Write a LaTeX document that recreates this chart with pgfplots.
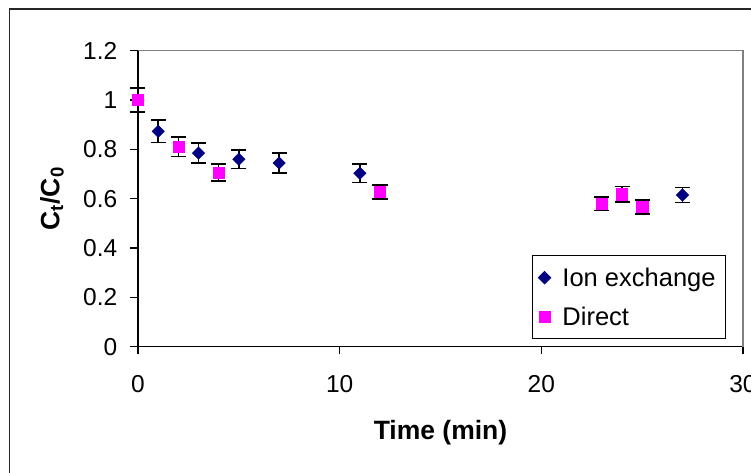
\documentclass[border=0pt]{standalone}
\usepackage{pgfplots}
\usepackage{pgfplotstable}
\pgfplotsset{compat=1.18}
\usepackage{fontspec}
\setmainfont{Liberation Sans}
\definecolor{navyc}{HTML}{000080}
\definecolor{magc}{HTML}{FF00FF}
\pgfplotstableread{
x y e
0 1.000 0.048
1 0.873 0.045
3 0.785 0.040
5 0.760 0.037
7 0.745 0.040
11 0.703 0.037
27 0.615 0.031
}\ionex
\pgfplotstableread{
x y e
0 1.000 0.048
2 0.811 0.040
4 0.706 0.034
12 0.627 0.028
23 0.580 0.028
24 0.618 0.031
25 0.567 0.028
}\directt
\begin{document}
\begin{tikzpicture}
\useasboundingbox (-138bp,-126.3bp) rectangle (613bp,346.7bp);
\draw[line width=1.2bp, black!85] (-128.5bp,-160bp) rectangle (640bp,337.7bp);
\begin{axis}[
  at={(0,0)}, anchor=south west,
  scale only axis, width=605bp, height=296bp,
  xmin=0, xmax=30, ymin=0, ymax=1.2,
  clip=false,
  xtick={0,10,20,30}, ytick={0,0.2,0.4,0.6,0.8,1,1.2},
  axis lines*=left,
  axis line style={-, black, line width=1.2bp},
  tick align=outside, major tick length=7.5bp,
  tick style={black, line width=1.2bp},
  /pgf/number format/assume math mode=true,
  ticklabel style={font=\fontsize{24.5bp}{28bp}\selectfont},
  xticklabel style={inner sep=0pt, anchor=north, yshift=-21bp},
  yticklabel style={inner sep=0pt, anchor=east, xshift=-13bp},
  xlabel={\textbf{Time (min)}},
  ylabel={\textbf{C\textsubscript{t}/C\textsubscript{0}}},
  label style={font=\fontsize{26.5bp}{30bp}\selectfont},
  xlabel style={at={(axis description cs:0.5,-0.2916)}, anchor=center},
  ylabel style={at={(axis description cs:-0.1421,0.5)}, anchor=center},
  legend style={at={(rel axis cs:0.9714,0.026)}, anchor=south east,
    draw=black, line width=0.8bp, font=\fontsize{25.5bp}{30bp}\selectfont,
    nodes={inner xsep=3.7bp},
    row sep=15bp, column sep=8bp, inner xsep=6bp, inner ysep=10bp},
  legend cell align=left,
  legend image code/.code={\draw[#1, mark repeat=2, mark phase=2] plot coordinates {(0cm,0cm) (0.4cm,0cm) (0.6cm,0cm)};},
]
\draw[gray, line width=1.2bp] (rel axis cs:0,1) -- (rel axis cs:1,1) -- (rel axis cs:1,0);
\addplot[only marks, mark=square*, mark size=4.4bp,
  mark options={rotate=45, fill=navyc, draw=navyc},
  error bars/.cd, y dir=both, y explicit, error mark=-,
  error mark options={black, mark size=7.5bp, line width=1.6bp, rotate=90},
  error bar style={black, line width=1.6bp}]
  table[x=x, y=y, y error=e] {\ionex};
\addplot[only marks, mark=square*, mark size=5.6bp,
  mark options={fill=magc, draw=magc},
  error bars/.cd, y dir=both, y explicit, error mark=-,
  error mark options={black, mark size=7.5bp, line width=1.6bp, rotate=90},
  error bar style={black, line width=1.6bp}]
  table[x=x, y=y, y error=e] {\directt};
\legend{Ion exchange, Direct}
\end{axis}
\end{tikzpicture}
\end{document}
